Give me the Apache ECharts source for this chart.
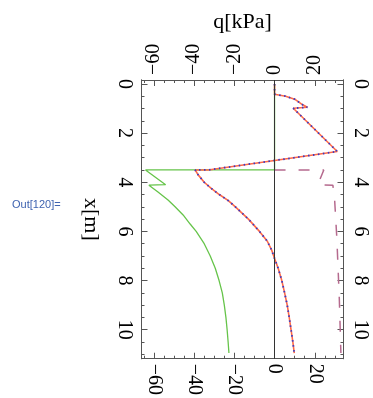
<!DOCTYPE html>
<html>
<head>
<meta charset="utf-8">
<script src="https://cdn.jsdelivr.net/npm/echarts@6/dist/echarts.min.js"></script>
<style>
html,body{margin:0;padding:0;background:#fff;}
#c{width:373px;height:398px;}
</style>
</head>
<body>
<div id="c"></div>
<script>
// tick values
const qTicks = [-60, -40, -20, 0, 20];
const qMinor = [-65, -55, -50, -45, -35, -30, -25, -15, -10, -5, 5, 10, 15, 25, 30];
const xTicks = [0, 2, 4, 6, 8, 10];
const xMinor = [0.5, 1, 1.5, 2.5, 3, 3.5, 4.5, 5, 5.5, 6.5, 7, 7.5, 8.5, 9, 9.5, 10.5, 11];

// main curve (red solid + blue dotted)
const xMain = [0, 0.42, 0.5, 0.62, 0.85, 0.95, 0.99, 2.75, 3.5, 3.5, 3.7, 4.0, 4.25, 4.5, 4.75, 5.0, 5.5, 6.0, 6.4, 6.75, 7.1, 7.5, 8.0, 8.5, 9.0, 9.5, 10.0, 10.5, 10.95];
const qMain = [0, 0, 5.5, 10, 14, 16.3, 9.3, 31.2, -33, -39.5, -38, -35, -31.5, -27.5, -23, -19.5, -13, -7.5, -3.6, -1.5, 0, 1.8, 3.6, 5.0, 6.3, 7.3, 8.2, 9.1, 9.8];

// green curve
const xGreen = [0, 3.5, 3.5, 4.1, 4.12, 4.4, 4.72, 5.0, 5.33, 5.7, 6.0, 6.5, 7.0, 7.5, 8.0, 8.5, 9.0, 9.5, 10.0, 10.5, 10.95];
const qGreen = [0, 0, -64.2, -54.2, -62.5, -58, -53, -49.5, -45.5, -42, -39, -35, -32, -29.5, -27.6, -26, -25, -24.2, -23.6, -23.1, -22.7];

// dashed curve
const xDash = [3.5, 3.5, 4.1, 4.12, 4.6, 5.3, 6.3, 7.3, 8.7, 9.8, 10.95];
const qDash = [0, 24.5, 21.5, 29, 29.8, 30.3, 31, 31.5, 32.2, 32.6, 33];

const qRange = [-66.2, 34.3];
const xRange = [-0.16, 11.18];

const pairs = (qs, xs) => qs.map((q, i) => [q, xs[i]]);
const fmt = v => (v < 0 ? '\u2212' + (-v) : '' + v);

const frameColor = '#555';
const labelStyle = { fontFamily: 'Liberation Serif', fontSize: 20, color: '#000' };

function qAxis(pos, major, withName) {
  const a = {
    type: 'value', position: pos, min: qRange[0], max: qRange[1],
    axisLine: { show: true, onZero: false, lineStyle: { color: frameColor, width: 1 } },
    axisTick: { show: true, inside: true, length: major ? 6 : 3, customValues: major ? qTicks : qMinor, lineStyle: { color: frameColor } },
    axisLabel: major ? Object.assign({ show: true, customValues: qTicks, rotate: -90, margin: 5, formatter: fmt }, labelStyle) : { show: false },
    splitLine: { show: false }
  };
  if (withName) {
    a.name = 'q[kPa]';
    a.nameLocation = 'middle';
    a.nameGap = 47;
    a.nameTextStyle = { fontFamily: 'Liberation Serif', fontSize: 22, color: '#000' };
  }
  return a;
}
function xAxisV(pos, major, withName) {
  const a = {
    type: 'value', position: pos, inverse: true, min: xRange[0], max: xRange[1],
    axisLine: { show: true, onZero: false, lineStyle: { color: frameColor, width: 1 } },
    axisTick: { show: true, inside: true, length: major ? 6 : 3, customValues: major ? xTicks : xMinor, lineStyle: { color: frameColor } },
    axisLabel: major ? Object.assign({ show: true, customValues: xTicks, rotate: -90, margin: 7, formatter: fmt }, labelStyle) : { show: false },
    splitLine: { show: false }
  };
  if (withName) {
    a.name = 'x[m]';
    a.nameLocation = 'middle';
    a.nameRotate = -90;
    a.nameGap = 40;
    a.nameTextStyle = { fontFamily: 'Liberation Serif', fontSize: 22, color: '#000' };
  }
  return a;
}

const chart = echarts.init(document.getElementById('c'), null, { renderer: 'canvas' });
chart.setOption({
  animation: false,
  backgroundColor: '#fff',
  grid: { left: 141.5, top: 80, width: 202, height: 279, containLabel: false },
  xAxis: [qAxis('top', true, true), qAxis('bottom', true, false), qAxis('top', false, false), qAxis('bottom', false, false)],
  yAxis: [xAxisV('left', true, true), xAxisV('right', true, false), xAxisV('left', false, false), xAxisV('right', false, false)],
  graphic: [{
    type: 'text', left: 12, top: 199,
    style: { text: 'Out[120]=', fontFamily: 'Liberation Sans', fontSize: 11, fill: '#3f63b0' }
  }],
  series: [
    {
      type: 'line', data: [], xAxisIndex: 0, yAxisIndex: 0, silent: true,
      markLine: { symbol: 'none', silent: true, label: { show: false },
        lineStyle: { color: '#333', width: 1, type: 'solid' }, data: [{ xAxis: 0 }] }
    },
    {
      name: 'green', type: 'line', data: pairs(qGreen, xGreen), xAxisIndex: 0, yAxisIndex: 0,
      showSymbol: false, lineStyle: { color: '#66c44a', width: 1.3 }
    },
    {
      name: 'dashed', type: 'line', data: pairs(qDash, xDash), xAxisIndex: 0, yAxisIndex: 0,
      showSymbol: false, lineStyle: { color: '#b56a8e', width: 1.5, type: [11, 13] }
    },
    {
      name: 'red', type: 'line', data: pairs(qMain, xMain), xAxisIndex: 0, yAxisIndex: 0,
      showSymbol: false, lineStyle: { color: '#ff6a48', width: 1.6 }
    },
    {
      name: 'blue', type: 'line', data: pairs(qMain, xMain), xAxisIndex: 0, yAxisIndex: 0,
      showSymbol: false, lineStyle: { color: '#3a3ac4', width: 1.8, type: [1.5, 3.5] }
    }
  ]
});
</script>
</body>
</html>
